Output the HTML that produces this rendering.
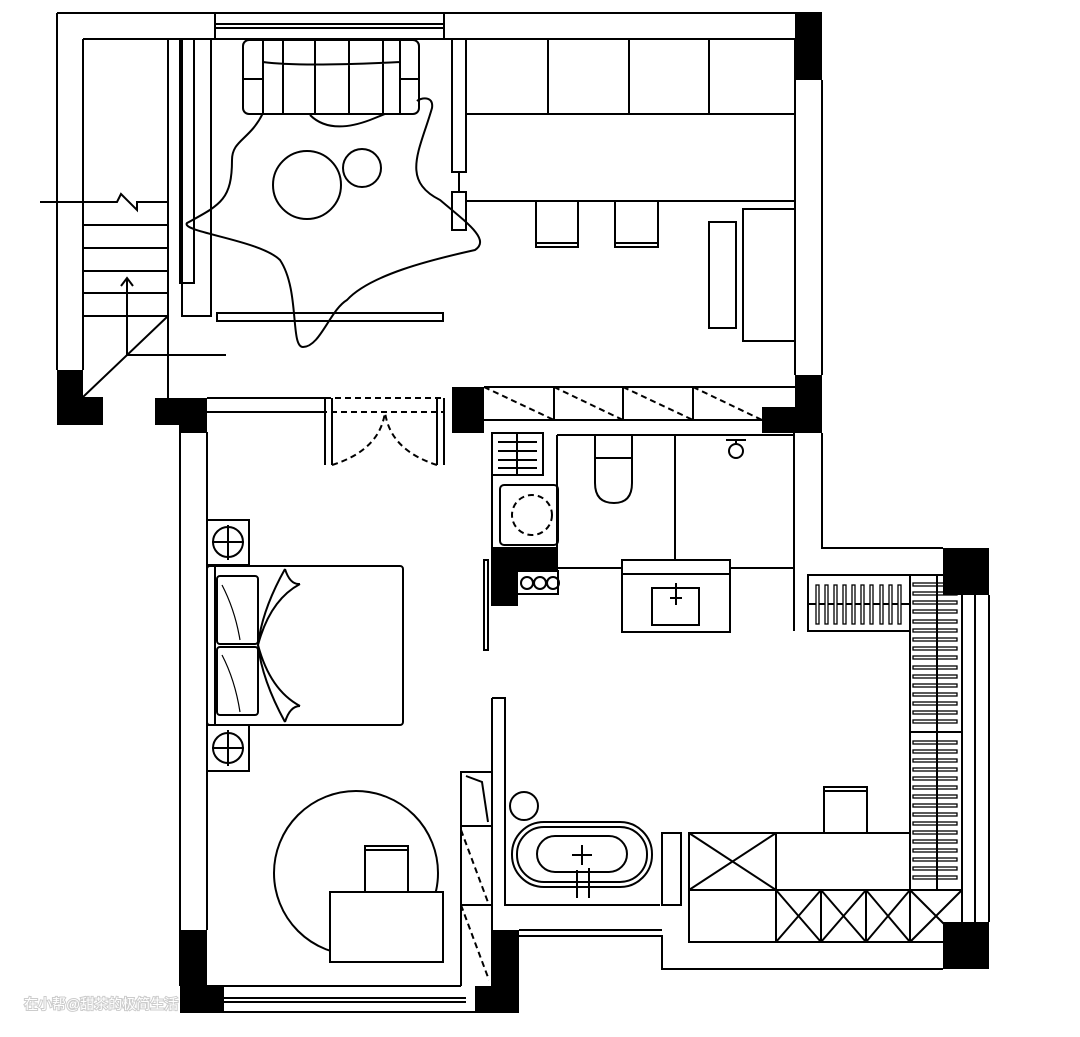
<!DOCTYPE html>
<html><head><meta charset="utf-8"><style>
html,body{margin:0;padding:0;background:#fff}
svg{display:block}
</style></head><body>
<svg width="1080" height="1037" viewBox="0 0 1080 1037" xmlns="http://www.w3.org/2000/svg">
<g fill="none" stroke="#000" stroke-width="2">
<path d="M57,13 H795 M83,39 H795 M57,13 V370 M83,39 V370"/>
<path d="M215,13 V39 M444,13 V39 M215,24 H444 M215,28 H444"/>
<path d="M822,80 V375 M795,39 V375"/>
<path d="M168,39 V398 M83,202 H117 L121,194 L137,210 L137,202 H168 M40,202 H83"/>
<path d="M83,225 H168 M83,248 H168 M83,271 H168 M83,293 H168 M83,316 H168"/>
<path d="M83,397 L168,316 M127,355 V278 M121,286 L127,278 L133,286 M127,355 H226"/>
<rect x="180" y="39" width="14" height="244"/>
<rect x="182" y="39" width="29" height="277"/>
<rect x="217" y="313" width="226" height="8"/>
<rect x="243" y="40" width="176" height="74" rx="6"/>
<path d="M263,40 V114 M283,40 V114 M315,40 V114 M349,40 V114 M383,40 V114 M400,40 V114 M243,79 H263 M400,79 H419 M263,62 Q300,67 400,62"/>
<path d="M263,113 C250,140 232,140 232,160 C232,200 220,205 187,223 C180,232 260,240 280,260 C300,290 290,347 303,347 C320,347 330,310 347,300 C370,275 430,260 475,250 C490,240 470,225 440,200 C400,180 420,150 432,108 C434,95 420,98 417,101"/>
<path d="M310,115 Q330,135 370,120 L385,114"/>
<circle cx="307" cy="185" r="34"/>
<circle cx="362" cy="168" r="19"/>
<rect x="452" y="39" width="14" height="133"/>
<rect x="452" y="192" width="14" height="38"/>
<path d="M459,172 V192 M466,114 H795 M466,201 H795"/>
<path d="M548,39 V114 M629,39 V114 M709,39 V114"/>
<rect x="536" y="201" width="42" height="46"/><path d="M536,243 H578"/>
<rect x="615" y="201" width="43" height="46"/><path d="M615,243 H658"/>
<rect x="709" y="222" width="27" height="106"/>
<rect x="743" y="209" width="52" height="132"/>
<path d="M207,398 H325 M207,412 H325 M207,432 V930 M180,425 V986"/>
<rect x="325" y="398" width="119" height="14" stroke-dasharray="6,4"/>
<path d="M325,398 V465 M332,398 V465 M437,398 V465 M444,398 V465"/>
<path d="M332,465 Q380,450 385,412 M437,465 Q390,450 385,412" stroke-dasharray="6,4"/>
<path d="M484,387 H795 M484,420 H762 M554,387 V420 M623,387 V420 M693,387 V420"/>
<path d="M484,387 L554,420 M554,387 L623,420 M623,387 L693,420 M693,387 L762,420" stroke-dasharray="6,4"/>
<path d="M822,433 V548 H943 M794,433 V631 M962,595 V922 M989,595 V922 M975,595 V922"/>
<path d="M518,936 H662 V969 H943 M519,930 H662"/>
<path d="M557,435 V568 H622 M557,435 H794 M675,435 V560 M730,568 H794"/>
<rect x="622" y="560" width="108" height="72"/>
<path d="M622,574 H730"/>
<rect x="652" y="588" width="47" height="37"/>
<path d="M676,583 V605 M670,598 H682"/>
<path d="M595,436 V483 Q595,503 614,503 Q632,503 632,483 V436 M595,458 H632"/>
<circle cx="736" cy="451" r="7"/><path d="M726,440 H746 M736,440 V444"/>
<rect x="492" y="433" width="51" height="42"/>
<path d="M517,433 V475 M498,442 H537 M498,451 H537 M498,460 H537 M498,468 H537"/>
<rect x="500" y="485" width="58" height="60" rx="4"/>
<circle cx="532" cy="515" r="20" stroke-dasharray="6,4"/>
<path d="M492,433 V606"/>
<rect x="484" y="560" width="4" height="90"/>
<path d="M518,571 H558 V594 H518"/>
<circle cx="527" cy="583" r="6"/><circle cx="540" cy="583" r="6"/><circle cx="553" cy="583" r="6"/>
<rect x="808" y="575" width="102" height="56"/>
<path d="M808,604 H910"/>
<rect x="910" y="575" width="52" height="315"/>
<path d="M937,575 V890 M910,732 H962"/>
<rect x="689" y="833" width="221" height="57"/>
<rect x="689" y="890" width="273" height="52"/>
<path d="M776,833 V942 M689,833 L776,890 M776,833 L689,890"/>
<path d="M821,890 V942 M866,890 V942 M910,890 V942"/>
<path d="M776,890 L821,942 M821,890 L776,942 M821,890 L866,942 M866,890 L821,942 M866,890 L910,942 M910,890 L866,942 M910,890 L962,942 M962,890 L910,942"/>
<rect x="824" y="787" width="43" height="46"/><path d="M824,791 H867"/>
<rect x="662" y="833" width="19" height="72"/>
<rect x="207" y="520" width="42" height="45"/><circle cx="228" cy="542" r="15"/><path d="M228,525 V560 M212,542 H244"/>
<rect x="207" y="725" width="42" height="46"/><circle cx="228" cy="748" r="15"/><path d="M228,730 V766 M212,748 H244"/>
<rect x="207" y="566" width="196" height="159" rx="3"/>
<path d="M215,566 V725"/>
<rect x="217" y="576" width="41" height="68" rx="3"/>
<rect x="217" y="647" width="41" height="68" rx="3"/>
<path d="M285,569 Q262,610 258,645 Q262,680 285,722 M285,569 Q290,585 300,584 M285,722 Q290,706 300,706 M258,645 Q270,600 300,584 M258,645 Q270,690 300,706"/>
<path d="M222,585 Q235,610 240,640 M222,655 Q235,680 240,712" stroke-width="1.2"/>
<circle cx="356" cy="873" r="82"/>
<rect x="330" y="892" width="113" height="70" fill="#fff"/>
<rect x="365" y="846" width="43" height="46" fill="#fff"/><path d="M365,850 H408"/>
<path d="M492,698 H505 V905 H660 M492,698 V930"/>
<rect x="461" y="772" width="31" height="54"/>
<path d="M466,776 L482,782 L488,822 M461,826 V986"/>
<path d="M461,830 L489,905 M461,905 L489,980" stroke-dasharray="6,4"/>
<path d="M461,905 H492"/>
<circle cx="524" cy="806" r="14"/>
<rect x="512" y="822" width="140" height="65" rx="32"/>
<rect x="517" y="827" width="130" height="55" rx="27"/>
<rect x="537" y="836" width="90" height="36" rx="18"/>
<path d="M582,845 V865 M572,855 H592 M577,870 V898 M589,868 V898"/>
<path d="M207,986 H461 M224,1012 H475 M224,998 H466 M224,1002 H466"/>
</g>
<!-- slats -->
<g fill="#fff" stroke="#000" stroke-width="1.3">
<rect x="816" y="585" width="3" height="39"/><rect x="825" y="585" width="3" height="39"/><rect x="834" y="585" width="3" height="39"/><rect x="843" y="585" width="3" height="39"/><rect x="852" y="585" width="3" height="39"/><rect x="861" y="585" width="3" height="39"/><rect x="870" y="585" width="3" height="39"/><rect x="880" y="585" width="3" height="39"/><rect x="889" y="585" width="3" height="39"/><rect x="898" y="585" width="3" height="39"/>
</g>
<g fill="#fff" stroke="#000" stroke-width="1.3">
<rect x="913" y="583" width="44" height="3"/><rect x="913" y="592" width="44" height="3"/><rect x="913" y="601" width="44" height="3"/><rect x="913" y="610" width="44" height="3"/><rect x="913" y="620" width="44" height="3"/><rect x="913" y="629" width="44" height="3"/><rect x="913" y="638" width="44" height="3"/><rect x="913" y="647" width="44" height="3"/><rect x="913" y="656" width="44" height="3"/><rect x="913" y="666" width="44" height="3"/><rect x="913" y="675" width="44" height="3"/><rect x="913" y="684" width="44" height="3"/><rect x="913" y="693" width="44" height="3"/><rect x="913" y="702" width="44" height="3"/><rect x="913" y="711" width="44" height="3"/><rect x="913" y="720" width="44" height="3"/>
<rect x="913" y="741" width="44" height="3"/><rect x="913" y="750" width="44" height="3"/><rect x="913" y="759" width="44" height="3"/><rect x="913" y="768" width="44" height="3"/><rect x="913" y="777" width="44" height="3"/><rect x="913" y="786" width="44" height="3"/><rect x="913" y="795" width="44" height="3"/><rect x="913" y="804" width="44" height="3"/><rect x="913" y="813" width="44" height="3"/><rect x="913" y="822" width="44" height="3"/><rect x="913" y="831" width="44" height="3"/><rect x="913" y="840" width="44" height="3"/><rect x="913" y="849" width="44" height="3"/><rect x="913" y="858" width="44" height="3"/><rect x="913" y="867" width="44" height="3"/><rect x="913" y="876" width="44" height="3"/>
</g>
<path d="M937,575 V890" stroke="#000" stroke-width="2"/>
<g fill="#000">
<rect x="795" y="12" width="27" height="68"/>
<rect x="57" y="370" width="26" height="55"/>
<rect x="57" y="397" width="46" height="28"/>
<rect x="155" y="398" width="52" height="27"/>
<rect x="180" y="398" width="27" height="35"/>
<rect x="452" y="387" width="32" height="46"/>
<rect x="762" y="407" width="60" height="26"/>
<rect x="795" y="375" width="27" height="58"/>
<rect x="943" y="548" width="46" height="47"/>
<rect x="943" y="922" width="46" height="47"/>
<rect x="180" y="930" width="27" height="83"/>
<rect x="180" y="986" width="44" height="27"/>
<rect x="491" y="930" width="28" height="83"/>
<rect x="475" y="986" width="44" height="27"/>
<rect x="492" y="547" width="66" height="24"/>
<rect x="492" y="547" width="26" height="59"/>
</g>
<text x="24" y="1009" font-family="Liberation Sans, Noto Sans CJK SC, sans-serif" font-size="14" fill="#fff" stroke="#ccc" stroke-width="2" paint-order="stroke">在小帮@甜茶的极简生活</text>
</svg>
</body></html>
